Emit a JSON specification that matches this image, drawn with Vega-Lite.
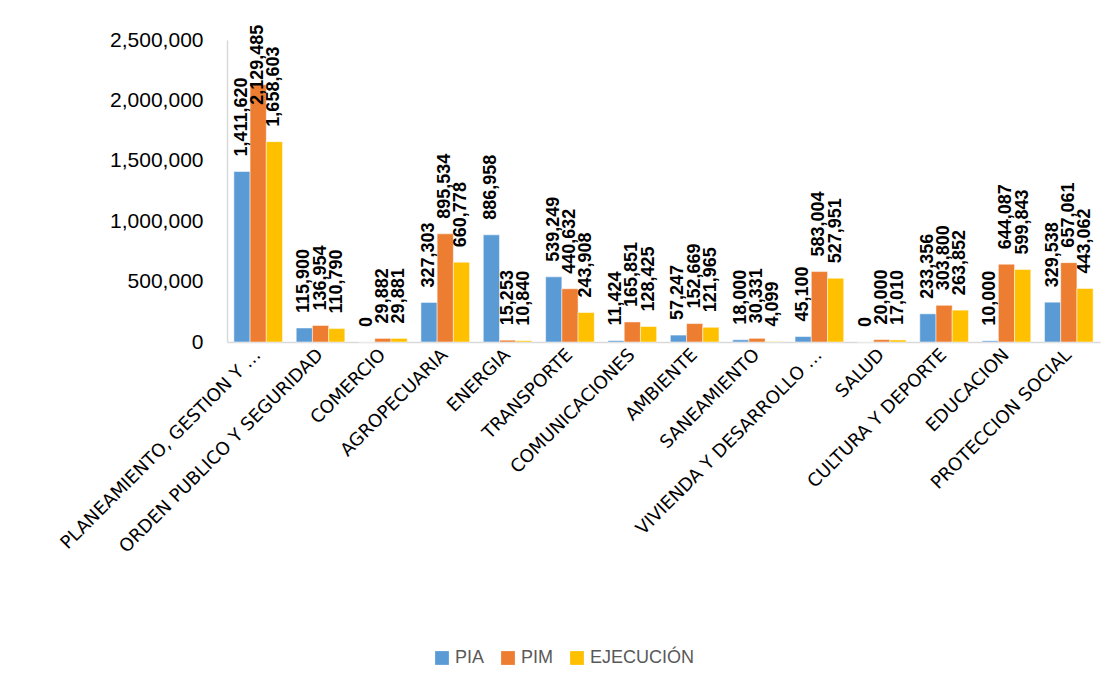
{
  "$schema": "https://vega.github.io/schema/vega-lite/v6.json",
  "autosize": {"type": "none"},
  "padding": {"left": 227, "top": 40, "right": 14, "bottom": 349},
  "width": 873,
  "height": 302,
  "background": "white",
  "config": {"view": {"stroke": null}},
  "data": {"values": [
    {"cat": "PLANEAMIENTO, GESTION Y …", "serie": "PIA", "valor": 1411620},
    {"cat": "PLANEAMIENTO, GESTION Y …", "serie": "PIM", "valor": 2129485},
    {"cat": "PLANEAMIENTO, GESTION Y …", "serie": "EJECUCIÓN", "valor": 1658603},
    {"cat": "ORDEN PUBLICO Y SEGURIDAD", "serie": "PIA", "valor": 115900},
    {"cat": "ORDEN PUBLICO Y SEGURIDAD", "serie": "PIM", "valor": 136954},
    {"cat": "ORDEN PUBLICO Y SEGURIDAD", "serie": "EJECUCIÓN", "valor": 110790},
    {"cat": "COMERCIO", "serie": "PIA", "valor": 0},
    {"cat": "COMERCIO", "serie": "PIM", "valor": 29882},
    {"cat": "COMERCIO", "serie": "EJECUCIÓN", "valor": 29881},
    {"cat": "AGROPECUARIA", "serie": "PIA", "valor": 327303},
    {"cat": "AGROPECUARIA", "serie": "PIM", "valor": 895534},
    {"cat": "AGROPECUARIA", "serie": "EJECUCIÓN", "valor": 660778},
    {"cat": "ENERGIA", "serie": "PIA", "valor": 886958},
    {"cat": "ENERGIA", "serie": "PIM", "valor": 15253},
    {"cat": "ENERGIA", "serie": "EJECUCIÓN", "valor": 10840},
    {"cat": "TRANSPORTE", "serie": "PIA", "valor": 539249},
    {"cat": "TRANSPORTE", "serie": "PIM", "valor": 440632},
    {"cat": "TRANSPORTE", "serie": "EJECUCIÓN", "valor": 243908},
    {"cat": "COMUNICACIONES", "serie": "PIA", "valor": 11424},
    {"cat": "COMUNICACIONES", "serie": "PIM", "valor": 165851},
    {"cat": "COMUNICACIONES", "serie": "EJECUCIÓN", "valor": 128425},
    {"cat": "AMBIENTE", "serie": "PIA", "valor": 57247},
    {"cat": "AMBIENTE", "serie": "PIM", "valor": 152669},
    {"cat": "AMBIENTE", "serie": "EJECUCIÓN", "valor": 121965},
    {"cat": "SANEAMIENTO", "serie": "PIA", "valor": 18000},
    {"cat": "SANEAMIENTO", "serie": "PIM", "valor": 30331},
    {"cat": "SANEAMIENTO", "serie": "EJECUCIÓN", "valor": 4099},
    {"cat": "VIVIENDA Y DESARROLLO …", "serie": "PIA", "valor": 45100},
    {"cat": "VIVIENDA Y DESARROLLO …", "serie": "PIM", "valor": 583004},
    {"cat": "VIVIENDA Y DESARROLLO …", "serie": "EJECUCIÓN", "valor": 527951},
    {"cat": "SALUD", "serie": "PIA", "valor": 0},
    {"cat": "SALUD", "serie": "PIM", "valor": 20000},
    {"cat": "SALUD", "serie": "EJECUCIÓN", "valor": 17010},
    {"cat": "CULTURA Y DEPORTE", "serie": "PIA", "valor": 233356},
    {"cat": "CULTURA Y DEPORTE", "serie": "PIM", "valor": 303800},
    {"cat": "CULTURA Y DEPORTE", "serie": "EJECUCIÓN", "valor": 263852},
    {"cat": "EDUCACION", "serie": "PIA", "valor": 10000},
    {"cat": "EDUCACION", "serie": "PIM", "valor": 644087},
    {"cat": "EDUCACION", "serie": "EJECUCIÓN", "valor": 599843},
    {"cat": "PROTECCION SOCIAL", "serie": "PIA", "valor": 329538},
    {"cat": "PROTECCION SOCIAL", "serie": "PIM", "valor": 657061},
    {"cat": "PROTECCION SOCIAL", "serie": "EJECUCIÓN", "valor": 443062}
  ]},
  "encoding": {
    "x": {
      "field": "cat", "type": "nominal", "sort": null, "title": null,
      "scale": {"paddingInner": 0.22, "paddingOuter": 0.11},
      "axis": {
        "labelAngle": -45, "labelAlign": "right", "labelBaseline": "middle",
        "labelFont": "DejaVu Sans", "labelFontSize": 18, "labelColor": "#000000",
        "labelPadding": 10, "ticks": false, "domainColor": "#D9D9D9", "domainWidth": 1.5,
        "labelLimit": 500
      }
    },
    "xOffset": {"field": "serie", "type": "nominal", "sort": ["PIA", "PIM", "EJECUCIÓN"]},
    "y": {
      "field": "valor", "type": "quantitative", "title": null,
      "scale": {"domain": [0, 2500000], "nice": false},
      "axis": {
        "values": [0, 500000, 1000000, 1500000, 2000000, 2500000],
        "labelExpr": "format(datum.value, ',')",
        "grid": false, "domain": true, "domainColor": "#D9D9D9", "domainWidth": 1.5, "ticks": false,
        "labelFont": "Liberation Sans", "labelFontSize": 21, "labelColor": "#000000",
        "labelPadding": 24
      }
    }
  },
  "layer": [
    {
      "mark": {"type": "bar", "stroke": "white", "strokeWidth": 0.5},
      "encoding": {
        "color": {
          "field": "serie", "type": "nominal", "title": null,
          "sort": ["PIA", "PIM", "EJECUCIÓN"],
          "scale": {"domain": ["PIA", "PIM", "EJECUCIÓN"], "range": ["#5B9BD5", "#ED7D31", "#FFC000"]},
          "legend": {
            "orient": "none", "direction": "horizontal", "legendX": 206, "legendY": 609,
            "symbolType": "square", "symbolSize": 190, "symbolStrokeWidth": 0,
            "labelFont": "Liberation Sans", "labelFontSize": 18, "labelColor": "#595959",
            "columnPadding": 14
          }
        }
      }
    },
    {
      "mark": {"type": "text", "angle": 270, "align": "left", "baseline": "middle",
               "dx": {"expr": "datum.valor > 2000000 ? -20 : 15"},
               "font": "Liberation Sans", "fontSize": 18, "fontWeight": "bold", "color": "#000000"},
      "encoding": {
        "text": {"field": "valor", "type": "quantitative", "format": ","}
      }
    }
  ]
}
